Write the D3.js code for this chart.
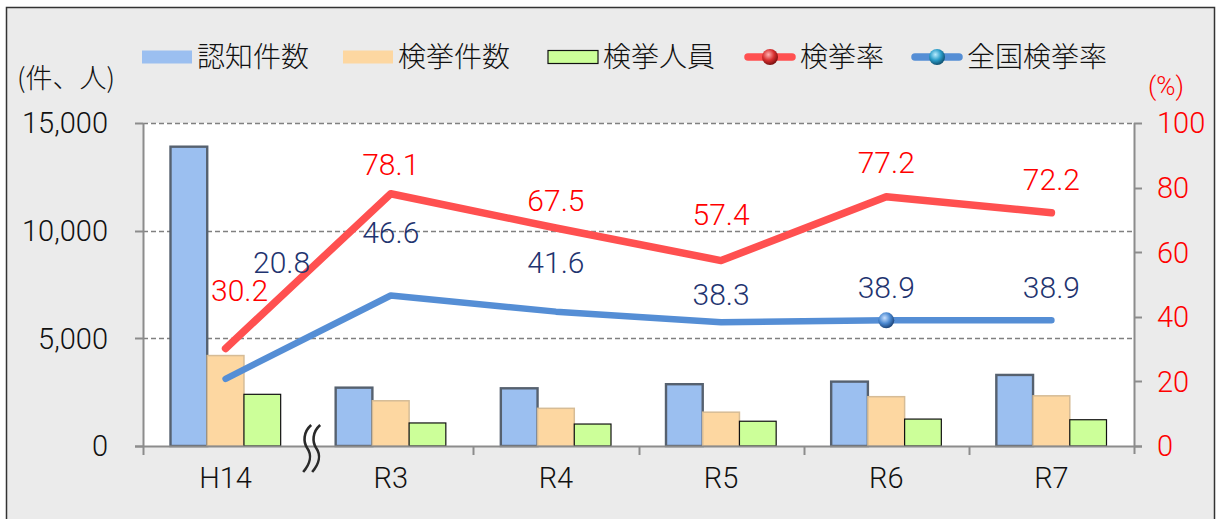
<!DOCTYPE html>
<html>
<head>
  <meta charset="utf-8">
  <title>認知件数・検挙件数・検挙人員・検挙率</title>
  <style>
    html, body { margin: 0; padding: 0; background: #fff; }
    svg text { font-family: "Noto Sans CJK JP", "Noto Sans", sans-serif; font-weight: 300; }
    svg text.num { font-family: Roboto, "Noto Sans", sans-serif; font-weight: 300; }
  </style>
</head>
<body>
  <div id="chart"></div>
  <script src="https://cdn.jsdelivr.net/npm/d3@7"></script>
  <script type="text/javascript">
    // data
    var categories = ["H14", "R3", "R4", "R5", "R6", "R7"];
    var ninchi = [13900, 2710, 2680, 2870, 2990, 3300];      // 認知件数
    var kenkyoKensu = [4200, 2100, 1750, 1570, 2290, 2330];  // 検挙件数
    var kenkyoJinin = [2400, 1070, 1020, 1150, 1250, 1220];  // 検挙人員
    var kenkyoRitsu = [30.2, 78.1, 67.5, 57.4, 77.2, 72.2];  // 検挙率
    var zenkokuRitsu = [20.8, 46.6, 41.6, 38.3, 38.9, 38.9]; // 全国検挙率
    var leftTicks = [0, 5000, 10000, 15000];
    var rightTicks = [0, 20, 40, 60, 80, 100];

    var w = 1217;
    var h = 519;
    var plot = { left: 143, right: 1134, top: 123, bottom: 446 };

    var svg = d3.select("#chart")
      .append("svg")
      .attr("width", w)
      .attr("height", h);

    var defs = svg.append("defs");
    function sphere(id, light, mid, dark) {
      var g = defs.append("radialGradient").attr("id", id)
        .attr("cx", "40%").attr("cy", "35%").attr("r", "65%");
      g.append("stop").attr("offset", "0%").attr("stop-color", light);
      g.append("stop").attr("offset", "55%").attr("stop-color", mid);
      g.append("stop").attr("offset", "100%").attr("stop-color", dark);
    }
    sphere("redBall", "#ffb0b0", "#d83030", "#7a1010");
    sphere("tealBall", "#b8ecff", "#2a9cc8", "#105070");
    sphere("blueBall", "#c8e0ff", "#4a88d0", "#1c4478");

    // frame
    svg.append("rect")
      .attr("x", 6.5).attr("y", 7.5)
      .attr("width", 1208).attr("height", 520)
      .attr("fill", "#ebebeb")
      .attr("stroke", "#333")
      .attr("stroke-width", 1.5);

    svg.append("rect")
      .attr("x", plot.left).attr("y", plot.top)
      .attr("width", plot.right - plot.left)
      .attr("height", plot.bottom - plot.top)
      .attr("fill", "#fff");

    var x0 = d3.scaleBand()
      .domain(categories)
      .range([plot.left, plot.right])
      .paddingInner(0.333)
      .paddingOuter(0.1665);
    var step = x0.step();
    var seriesKeys = ["ninchi", "kensu", "jinin"];
    var x1 = d3.scaleBand()
      .domain(seriesKeys)
      .range([0, x0.bandwidth()]);

    var yL = d3.scaleLinear().domain([0, 15000]).range([plot.bottom, plot.top]);
    var yR = d3.scaleLinear().domain([0, 100]).range([plot.bottom, plot.top]);

    function center(c) { return x0(c) + x0.bandwidth() / 2; }

    // grid lines
    svg.append("g")
      .selectAll("line")
      .data(leftTicks.filter(function(d) { return d > 0; }))
      .enter()
      .append("line")
      .attr("x1", plot.left).attr("x2", plot.right)
      .attr("y1", function(d) { return Math.round(yL(d)) + 0.5; })
      .attr("y2", function(d) { return Math.round(yL(d)) + 0.5; })
      .attr("stroke", "#808080")
      .attr("stroke-width", 1.3)
      .attr("stroke-dasharray", "5,3");

    // bars
    var barStyle = {
      ninchi: { fill: "#9bbff0", stroke: "#56616f", sw: 2.4 },
      kensu: { fill: "#fdd7a1", stroke: "#d6bc96", sw: 1.5 },
      jinin: { fill: "#ccff99", stroke: "#111", sw: 1.2 }
    };
    var rows = categories.map(function(c, i) {
      return { cat: c, ninchi: ninchi[i], kensu: kenkyoKensu[i], jinin: kenkyoJinin[i] };
    });
    var groups = svg.append("g")
      .selectAll("g")
      .data(rows)
      .enter()
      .append("g")
      .attr("transform", function(d) { return "translate(" + x0(d.cat) + ",0)"; });
    groups.selectAll("rect")
      .data(function(d) { return seriesKeys.map(function(k) { return { key: k, value: d[k] }; }); })
      .enter()
      .append("rect")
      .attr("x", function(d) { return x1(d.key); })
      .attr("y", function(d) { return yL(d.value); })
      .attr("width", x1.bandwidth())
      .attr("height", function(d) { return plot.bottom - yL(d.value); })
      .attr("fill", function(d) { return barStyle[d.key].fill; })
      .attr("stroke", function(d) { return barStyle[d.key].stroke; })
      .attr("stroke-width", function(d) { return barStyle[d.key].sw; });

    // axes lines and ticks
    var axisColor = "#8c8c8c";
    svg.append("line")
      .attr("x1", plot.left + 0.5).attr("x2", plot.left + 0.5)
      .attr("y1", plot.top).attr("y2", plot.bottom)
      .attr("stroke", axisColor).attr("stroke-width", 2);
    svg.append("line")
      .attr("x1", plot.right + 0.5).attr("x2", plot.right + 0.5)
      .attr("y1", plot.top).attr("y2", plot.bottom + 8)
      .attr("stroke", axisColor).attr("stroke-width", 2);
    svg.append("line")
      .attr("x1", plot.left - 8).attr("x2", plot.right + 8)
      .attr("y1", plot.bottom + 0.5).attr("y2", plot.bottom + 0.5)
      .attr("stroke", axisColor).attr("stroke-width", 2);

    svg.append("g").selectAll("line")
      .data(leftTicks)
      .enter().append("line")
      .attr("x1", plot.left - 8).attr("x2", plot.left)
      .attr("y1", function(d) { return Math.round(yL(d)) + 0.5; })
      .attr("y2", function(d) { return Math.round(yL(d)) + 0.5; })
      .attr("stroke", axisColor).attr("stroke-width", 2);
    svg.append("g").selectAll("line")
      .data(rightTicks)
      .enter().append("line")
      .attr("x1", plot.right).attr("x2", plot.right + 8)
      .attr("y1", function(d) { return Math.round(yR(d)) + 0.5; })
      .attr("y2", function(d) { return Math.round(yR(d)) + 0.5; })
      .attr("stroke", axisColor).attr("stroke-width", 2);

    // category boundary ticks (the one after H14 is replaced by the break mark)
    var bounds = categories.map(function(c) { return x0(c) - step * 0.1665; })
      .filter(function(b, i) { return i !== 1; });
    svg.append("g").selectAll("line")
      .data(bounds)
      .enter().append("line")
      .attr("x1", function(d) { return Math.round(d) + 0.5; })
      .attr("x2", function(d) { return Math.round(d) + 0.5; })
      .attr("y1", plot.bottom).attr("y2", plot.bottom + 9)
      .attr("stroke", axisColor).attr("stroke-width", 2);

    // break mark
    var bx = x0("R3") - step * 0.1665 + 1;
    [0, 9].forEach(function(off) {
      var x = bx + off;
      svg.append("path")
        .attr("d", "M" + (x + 2) + "," + 425 +
          " C" + (x - 6) + "," + 432 + " " + (x - 6) + "," + 442 + " " + (x - 2) + "," + 448 +
          " C" + (x + 3) + "," + 455 + " " + (x + 1) + "," + 464 + " " + (x - 6) + "," + 472)
        .attr("fill", "none")
        .attr("stroke", "#2a2a2a")
        .attr("stroke-width", 2.6);
    });

    // tick labels
    var fmt = d3.format(",");
    svg.append("g").selectAll("text")
      .data(leftTicks)
      .enter().append("text")
      .attr("class", "num")
      .attr("x", 108)
      .attr("y", function(d) { return yL(d); })
      .attr("dy", "0.36em")
      .attr("text-anchor", "end")
      .attr("font-size", 29)
      .attr("fill", "#111")
      .text(function(d) { return fmt(d); });
    svg.append("g").selectAll("text")
      .data(rightTicks)
      .enter().append("text")
      .attr("class", "num")
      .attr("x", 1157)
      .attr("y", function(d) { return yR(d); })
      .attr("dy", "0.36em")
      .attr("font-size", 29)
      .attr("fill", "#ff0000")
      .text(function(d) { return d; });
    svg.append("g").selectAll("text")
      .data(categories)
      .enter().append("text")
      .attr("class", "num")
      .attr("x", function(d) { return center(d); })
      .attr("y", 478)
      .attr("dy", "0.36em")
      .attr("text-anchor", "middle")
      .attr("font-size", 29)
      .attr("fill", "#111")
      .text(function(d) { return d; });

    svg.append("text")
      .attr("x", 17).attr("y", 78).attr("dy", "0.36em")
      .attr("font-size", 27).attr("fill", "#111")
      .text("(件、人)");
    svg.append("text")
      .attr("class", "num")
      .attr("x", 1148).attr("y", 86).attr("dy", "0.36em")
      .attr("font-size", 26).attr("fill", "#ff0000")
      .text("(%)");

    // rate lines
    var line = d3.line()
      .x(function(d, i) { return center(categories[i]); })
      .y(function(d) { return yR(d); });
    svg.append("path")
      .datum(zenkokuRitsu)
      .attr("d", line)
      .attr("fill", "none")
      .attr("stroke", "#558ed5")
      .attr("stroke-width", 6.5)
      .attr("stroke-linecap", "round")
      .attr("stroke-linejoin", "round");
    svg.append("path")
      .datum(kenkyoRitsu)
      .attr("d", line)
      .attr("fill", "none")
      .attr("stroke", "#ff5050")
      .attr("stroke-width", 7.5)
      .attr("stroke-linecap", "round")
      .attr("stroke-linejoin", "round");

    // the single visible marker on the national line (R6)
    svg.append("circle")
      .attr("cx", center("R6"))
      .attr("cy", yR(zenkokuRitsu[4]))
      .attr("r", 8)
      .attr("fill", "url(#blueBall)");

    // data labels (manual placement like the original)
    var redShift = [[14, -58], [0, -30], [0, -28], [0, -46], [0, -34], [0, -34]];
    var blueShift = [[56, -117], [0, -63], [0, -49], [0, -28], [0, -33], [0, -33]];
    function labels(vals, shift, color) {
      svg.append("g").selectAll("text")
        .data(vals)
        .enter().append("text")
        .attr("class", "num")
        .attr("x", function(d, i) { return center(categories[i]) + shift[i][0]; })
        .attr("y", function(d, i) { return yR(d) + shift[i][1]; })
        .attr("dy", "0.36em")
        .attr("text-anchor", "middle")
        .attr("font-size", 30)
        .attr("fill", color)
        .text(function(d) { return d.toFixed(1); });
    }
    labels(kenkyoRitsu, redShift, "#ff0000");
    labels(zenkokuRitsu, blueShift, "#1f3470");

    // legend
    var legendY = 57;
    var legendItems = [
      { name: "認知件数", type: "bar", key: "ninchi", x: 142 },
      { name: "検挙件数", type: "bar", key: "kensu", x: 343 },
      { name: "検挙人員", type: "bar", key: "jinin", x: 548 },
      { name: "検挙率", type: "line", color: "#ff5050", ball: "redBall", x: 745 },
      { name: "全国検挙率", type: "line", color: "#558ed5", ball: "tealBall", x: 912 }
    ];
    var lg = svg.append("g").selectAll("g")
      .data(legendItems)
      .enter().append("g")
      .attr("transform", function(d) { return "translate(" + d.x + "," + legendY + ")"; });
    lg.filter(function(d) { return d.type === "bar"; })
      .append("rect")
      .attr("x", 0).attr("y", -6.5)
      .attr("width", 50).attr("height", 13)
      .attr("fill", function(d) { return barStyle[d.key].fill; })
      .attr("stroke", function(d) { return d.key === "jinin" ? "#111" : "none"; })
      .attr("stroke-width", 1.2);
    lg.filter(function(d) { return d.type === "line"; })
      .append("line")
      .attr("x1", 3).attr("x2", 47)
      .attr("y1", 0).attr("y2", 0)
      .attr("stroke", function(d) { return d.color; })
      .attr("stroke-width", 7.5)
      .attr("stroke-linecap", "round");
    lg.filter(function(d) { return d.type === "line"; })
      .append("circle")
      .attr("cx", 25).attr("cy", 0).attr("r", 8)
      .attr("fill", function(d) { return "url(#" + d.ball + ")"; });
    lg.append("text")
      .attr("x", 55)
      .attr("y", 0)
      .attr("dy", "0.36em")
      .attr("font-size", 28)
      .attr("fill", "#111")
      .text(function(d) { return d.name; });
  </script>
</body>
</html>
